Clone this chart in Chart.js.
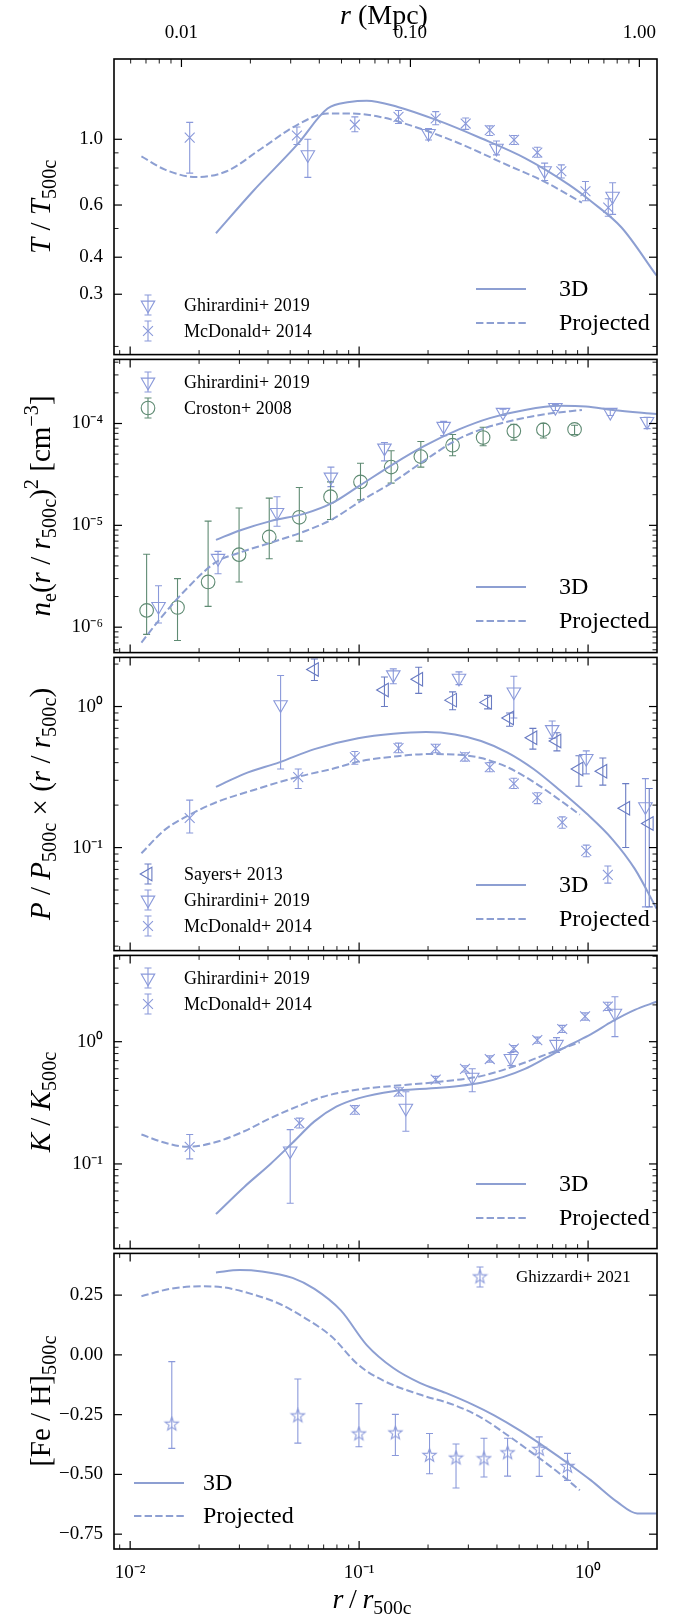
<!DOCTYPE html>
<html><head><meta charset="utf-8">
<script src="https://cdn.jsdelivr.net/npm/chart.js@4.4.1/dist/chart.umd.min.js"></script>
<style>
html,body{margin:0;padding:0;background:#fff;}
#wrap{position:relative;width:687px;height:1618px;overflow:hidden;background:#fff;}
canvas{position:absolute;left:0;}
</style></head><body><div id="wrap">
<canvas id="c0"></canvas><canvas id="c1"></canvas><canvas id="c2"></canvas><canvas id="c3"></canvas><canvas id="c4"></canvas>
</div>
<script>
// ---------------- DATA ----------------
const X_RANGE = [0.0085, 2.0];
const R500_MPC = 0.597;
const X_TICK_VALUES = [0.01, 0.1, 1];
const X_TICK_LABELS = ['10\u207B\u00B2', '10\u207B\u00B9', '10\u2070'];
const TOP_TICK_VALUES = [0.01, 0.1, 1];
const TOP_TICK_LABELS = ['0.01', '0.10', '1.00'];

// Temperature
const T_RANGE = [0.1877, 1.866];
const T_TICK_VALUES = [0.3, 0.4, 0.6, 1.0];
const T_TICK_LABELS = ['0.3', '0.4', '0.6', '1.0'];
const T_r3D = [0.0237,0.0344,0.0535,0.0728,0.0908,0.108,0.1476,0.219,0.341,0.53,0.824,1.027,1.40,1.99];
const T_3D  = [0.482,0.668,0.957,1.27,1.336,1.35,1.286,1.16,1.008,0.864,0.703,0.619,0.504,0.347];
const T_rProj = [0.0112,0.0142,0.0194,0.0264,0.0376,0.0535,0.0728,0.0908,0.1236,0.176,0.273,0.425,0.66,0.94];
const T_Proj  = [0.875,0.79,0.746,0.78,0.933,1.117,1.222,1.222,1.19,1.10,0.97,0.831,0.713,0.611];
const GH_T_r  = [0.0597,0.201,0.398,0.646,1.28];
const GH_T    = [0.887,1.047,0.933,0.784,0.643];
const GH_T_lo = [0.744,0.995,0.886,0.726,0.558];
const GH_T_hi = [1.0,1.088,0.987,0.831,0.713];
const MC_T_r  = [0.0182,0.0535,0.0958,0.1486,0.216,0.292,0.372,0.475,0.600,0.764,0.974,1.225];
const MC_T    = [1.013,1.03,1.12,1.19,1.175,1.13,1.074,0.995,0.902,0.78,0.668,0.588];
const MC_T_lo = [0.769,0.96,1.06,1.13,1.12,1.08,1.03,0.96,0.87,0.74,0.62,0.55];
const MC_T_hi = [1.14,1.10,1.19,1.25,1.24,1.18,1.11,1.03,0.94,0.82,0.72,0.63];

// Electron density
const NE_RANGE = [5.63e-7, 4.26e-4];
const NE_TICK_VALUES = [1e-6, 1e-5, 1e-4];
const NE_TICK_LABELS = ['10\u207B\u2076', '10\u207B\u2075', '10\u207B\u2074'];
const NE_r3D = [0.0237,0.0301,0.041,0.0583,0.076,0.099,0.141,0.192,0.273,0.372,0.53,0.753,0.98,1.28,1.99];
const NE_3D  = [7.2e-6,8.9e-6,1.1e-5,1.31e-5,1.65e-5,2.4e-5,4.0e-5,6.0e-5,8.75e-5,1.13e-4,1.36e-4,1.49e-4,1.47e-4,1.36e-4,1.24e-4];
const NE_rProj = [0.0112,0.0136,0.0177,0.0237,0.0301,0.041,0.0583,0.076,0.1035,0.141,0.192,0.262,0.341,0.485,0.66,0.94];
const NE_Proj  = [7.06e-7,1.23e-6,2.4e-6,4.35e-6,5.4e-6,6.75e-6,8.8e-6,1.14e-5,1.78e-5,2.67e-5,4.3e-5,6.75e-5,8.75e-5,1.09e-4,1.24e-4,1.36e-4];
const GH_NE_r  = [0.0133,0.0242,0.0438,0.0753,0.129,0.234,0.425,0.72,1.25,1.81];
const GH_NE    = [1.6e-6,4.75e-6,1.34e-5,2.98e-5,5.75e-5,9.4e-5,1.29e-4,1.44e-4,1.29e-4,1.05e-4];
const GH_NE_lo = [1.1e-6,3.35e-6,9.8e-6,2.4e-5,4.3e-5,7.6e-5,1.2e-4,1.34e-4,1.2e-4,8.9e-5];
const GH_NE_hi = [2.55e-6,5.55e-6,1.91e-5,3.73e-5,6.5e-5,1.05e-4,1.38e-4,1.54e-4,1.38e-4,1.15e-4];
const CR_NE_r  = [0.0118,0.0161,0.0219,0.0299,0.0405,0.0548,0.075,0.1014,0.138,0.186,0.256,0.348,0.474,0.638,0.873];
const CR_NE    = [1.46e-6,1.56e-6,2.78e-6,5.15e-6,7.7e-6,1.2e-5,1.91e-5,2.67e-5,3.73e-5,4.73e-5,6.12e-5,7.28e-5,8.43e-5,8.7e-5,8.75e-5];
const CR_NE_lo = [8.5e-7,7.4e-7,1.6e-6,2.78e-6,4.7e-6,7.0e-6,1.14e-5,1.78e-5,2.6e-5,3.73e-5,4.83e-5,6.04e-5,6.86e-5,7.2e-5,7.8e-5];
const CR_NE_hi = [5.2e-6,3.0e-6,1.1e-5,1.48e-5,1.85e-5,2.35e-5,2.67e-5,4.07e-5,5.4e-5,6.65e-5,7.8e-5,9.2e-5,9.8e-5,1.0e-4,9.6e-5];

// Pressure
const P_RANGE = [0.0186, 2.23];
const P_TICK_VALUES = [0.1, 1];
const P_TICK_LABELS = ['10\u207B\u00B9', '10\u2070'];
const P_r3D = [0.0237,0.0315,0.0448,0.0638,0.099,0.141,0.196,0.262,0.341,0.445,0.578,0.753,0.982,1.28,1.6,1.99];
const P_3D  = [0.269,0.333,0.402,0.499,0.595,0.641,0.659,0.634,0.57,0.472,0.361,0.255,0.175,0.114,0.0706,0.037];
const P_rProj = [0.0112,0.0142,0.0182,0.0242,0.0344,0.0535,0.076,0.1035,0.141,0.201,0.273,0.341,0.445,0.578,0.753,0.92];
const P_Proj  = [0.0912,0.134,0.171,0.212,0.255,0.316,0.361,0.413,0.441,0.46,0.455,0.431,0.371,0.292,0.217,0.171];
const SA_P_r  = [0.0638,0.129,0.182,0.256,0.364,0.454,0.574,0.731,0.912,1.16,1.46,1.85];
const SA_P    = [1.83,1.31,1.56,1.11,1.07,0.83,0.601,0.57,0.361,0.348,0.19,0.148];
const SA_P_lo = [1.53,1.0,1.24,0.948,0.963,0.725,0.499,0.485,0.272,0.277,0.1,0.038];
const SA_P_hi = [2.17,1.62,1.9,1.27,1.2,0.9,0.70,0.651,0.448,0.432,0.284,0.262];
const GH_P_r  = [0.0454,0.141,0.273,0.474,0.697,0.982,1.78];
const GH_P    = [1.03,1.68,1.59,1.27,0.687,0.429,0.195];
const GH_P_lo = [0.361,1.45,1.43,0.83,0.595,0.333,0.038];
const GH_P_hi = [1.66,1.85,1.76,1.64,0.79,0.485,0.308];
const MC_P_r  = [0.0182,0.0542,0.0958,0.1486,0.216,0.29,0.372,0.474,0.6,0.771,0.982,1.22];
const MC_P    = [0.162,0.316,0.436,0.507,0.504,0.441,0.371,0.284,0.226,0.151,0.0948,0.064];
const MC_P_lo = [0.127,0.262,0.39,0.47,0.47,0.41,0.345,0.262,0.205,0.137,0.086,0.056];
const MC_P_hi = [0.217,0.361,0.48,0.55,0.54,0.47,0.40,0.31,0.245,0.165,0.104,0.074];

// Entropy
const K_RANGE = [0.0203, 5.08];
const K_TICK_VALUES = [0.1, 1];
const K_TICK_LABELS = ['10\u207B\u00B9', '10\u2070'];
const K_r3D = [0.0237,0.0315,0.041,0.0512,0.0638,0.0795,0.099,0.141,0.201,0.273,0.341,0.425,0.53,0.66,0.824,1.027,1.28,1.6,1.99];
const K_3D  = [0.0389,0.0649,0.1,0.149,0.223,0.294,0.344,0.394,0.414,0.435,0.462,0.513,0.599,0.743,0.934,1.146,1.47,1.82,2.12];
const K_rProj = [0.0112,0.0142,0.0177,0.0231,0.0315,0.041,0.0535,0.0697,0.099,0.141,0.219,0.341,0.485,0.66,0.92];
const K_Proj  = [0.174,0.149,0.138,0.149,0.185,0.237,0.294,0.355,0.406,0.435,0.468,0.523,0.637,0.791,0.99];
const GH_K_r  = [0.05,0.16,0.312,0.46,0.728,1.31];
const GH_K    = [0.128,0.286,0.513,0.73,0.952,1.71];
const GH_K_lo = [0.0477,0.185,0.389,0.637,0.815,1.1];
const GH_K_hi = [0.191,0.389,0.6,0.815,1.08,2.33];
const MC_K_r  = [0.0182,0.0548,0.0958,0.149,0.216,0.29,0.372,0.474,0.6,0.771,0.97,1.22];
const MC_K    = [0.138,0.216,0.277,0.389,0.489,0.599,0.721,0.879,1.03,1.27,1.61,1.94];
const MC_K_lo = [0.11,0.197,0.255,0.36,0.46,0.565,0.68,0.83,0.97,1.19,1.5,1.8];
const MC_K_hi = [0.174,0.237,0.30,0.42,0.52,0.635,0.765,0.93,1.09,1.36,1.72,2.1];

// Metallicity
const FE_RANGE = [-0.812, 0.4245];
const FE_TICK_VALUES = [-0.75, -0.5, -0.25, 0, 0.25];
const FE_TICK_LABELS = ['\u22120.75', '\u22120.50', '\u22120.25', '0.00', '0.25'];
const FE_r3D = [0.0237,0.0301,0.0376,0.0512,0.0638,0.0832,0.108,0.141,0.184,0.239,0.312,0.389,0.507,0.66,0.824,1.03,1.34,1.64,1.99];
const FE_3D  = [0.345,0.355,0.349,0.322,0.276,0.186,0.041,-0.055,-0.117,-0.159,-0.207,-0.253,-0.318,-0.391,-0.456,-0.525,-0.615,-0.663,-0.663];
const FE_rProj = [0.0112,0.0149,0.0203,0.0253,0.0344,0.0448,0.0585,0.076,0.099,0.129,0.184,0.262,0.341,0.445,0.578,0.753,0.92];
const FE_Proj  = [0.245,0.276,0.287,0.283,0.253,0.214,0.152,0.076,-0.041,-0.11,-0.166,-0.211,-0.262,-0.336,-0.414,-0.497,-0.566];
const GZ_FE_r  = [0.0152,0.054,0.0998,0.144,0.203,0.265,0.351,0.445,0.612,0.813];
const GZ_FE    = [-0.29,-0.2555,-0.331,-0.327,-0.421,-0.432,-0.435,-0.41,-0.396,-0.467];
const GZ_FE_lo = [-0.391,-0.369,-0.384,-0.421,-0.497,-0.557,-0.511,-0.507,-0.508,-0.525];
const GZ_FE_hi = [-0.028,-0.101,-0.204,-0.249,-0.329,-0.373,-0.349,-0.349,-0.343,-0.412];

// ---------------- STYLE / LAYOUT ----------------
const FONT = '"Liberation Serif","Times New Roman",serif';
const LINE_C = '#8d9fd2';
const MARK_C = '#8a99da';
const SAY_C  = '#6a7cc3';
const CRO_C  = '#5f8b73';
const B = [59, 357, 655, 953, 1251, 1549];
const PAD = 12, PLOT_RIGHT = 657, PLOT_LEFT = 114, PAGE_H = 1618;
const TICK_FS = 19, TITLE_FS = 29;

function logMinor(lo, hi){ const out=[]; for(let e=-8;e<=1;e++){ const d=Math.pow(10,e); for(let k=2;k<=9;k++){ const v=k*d; if(v>lo&&v<hi) out.push(v);} } return out; }
function logMajor(lo, hi){ const out=[]; for(let e=-8;e<=1;e++){ const v=Math.pow(10,e); if(v>=lo&&v<=hi) out.push(v);} return out; }

const starImg = (()=>{ const c=document.createElement('canvas'); c.width=c.height=17; const g=c.getContext('2d'); g.strokeStyle=MARK_C; g.lineWidth=1.1; g.beginPath(); for(let k=0;k<10;k++){ const a=-Math.PI/2+k*Math.PI/5; const rr=k%2?2.9:7; g.lineTo(8.5+rr*Math.cos(a),8.5+rr*Math.sin(a)); } g.closePath(); g.stroke(); return c; })();

const zip = (xs, ys) => xs.map((x,i)=>({x, y: ys[i]}));
function lineDS(label, xs, ys, dashed){ return {label, data: zip(xs,ys), showLine:true, borderColor:LINE_C, borderWidth:2, borderDash: dashed?[7.4,3.2]:[], pointRadius:0, cubicInterpolationMode:'monotone', fill:false}; }
function markDS(label, xs, ys, lo, hi, kind){
  const k = MARKERS[kind];
  return {label, data: zip(xs,ys), errLo: lo, errHi: hi, showLine:false, borderColor:k.color, backgroundColor:'rgba(0,0,0,0)', pointStyle:k.style, rotation:k.rot, pointRadius:k.r, borderWidth:1.1, pointHoverRadius:k.r};
}
const MARKERS = {
  gh: {style:'triangle', rot:180, r:7.8, color:MARK_C},
  mc: {style:'crossRot', rot:0, r:7, color:MARK_C},
  sa: {style:'triangle', rot:270, r:7.8, color:SAY_C},
  cr: {style:'circle', rot:0, r:6.8, color:CRO_C},
  gz: {style:starImg, rot:0, r:7, color:MARK_C}
};

// ---------------- PLUGINS ----------------
function fontFor(s, size){ const sz=(s.sub||s.sup)?size*0.7:size; return (s.it?'italic ':'')+sz.toFixed(1)+'px '+FONT; }
function richWidth(ctx, segs, size){ let w=0; for(const s of segs){ ctx.font=fontFor(s,size); w+=ctx.measureText(s.t).width; } return w; }
function drawRich(ctx, segs, x, y, size, rot, align){
  ctx.save(); ctx.translate(x,y); if(rot) ctx.rotate(rot);
  const w=richWidth(ctx,segs,size); let cx = align==='left'?0:-w/2;
  ctx.fillStyle='#000'; ctx.textBaseline='alphabetic'; ctx.textAlign='left';
  for(const s of segs){ ctx.font=fontFor(s,size); const dy = s.sub?size*0.22:(s.sup?-size*0.42:0); ctx.fillText(s.t,cx,size*0.34+dy); cx+=ctx.measureText(s.t).width; }
  ctx.restore();
}
function drawMarker(ctx, kind, x, y){
  const k=MARKERS[kind];
  ctx.save(); ctx.strokeStyle=k.color; ctx.lineWidth=1.1;
  ctx.beginPath(); ctx.moveTo(x,y-10); ctx.lineTo(x,y+10); ctx.moveTo(x-3.5,y-10); ctx.lineTo(x+3.5,y-10); ctx.moveTo(x-3.5,y+10); ctx.lineTo(x+3.5,y+10); ctx.stroke();
  ctx.fillStyle='rgba(0,0,0,0)';
  Chart.helpers.drawPoint(ctx,{pointStyle:k.style, rotation:k.rot, radius:k.r, borderWidth:1.1},x,y);
  ctx.restore();
}

const PANEL = {};

const errPlugin = {
  id:'errbars',
  beforeDatasetsDraw(chart){
    const {ctx, chartArea:a} = chart; const xs=chart.scales.x, ys=chart.scales.y;
    ctx.save(); ctx.beginPath(); ctx.rect(a.left,a.top,a.right-a.left,a.bottom-a.top); ctx.clip();
    chart.data.datasets.forEach(ds=>{
      if(!ds.errLo) return;
      ctx.strokeStyle=ds.borderColor; ctx.lineWidth=1.1;
      ds.data.forEach((p,i)=>{
        const px=xs.getPixelForValue(p.x), y1=ys.getPixelForValue(ds.errLo[i]), y2=ys.getPixelForValue(ds.errHi[i]);
        ctx.beginPath(); ctx.moveTo(px,y1); ctx.lineTo(px,y2);
        ctx.moveTo(px-3.5,y1); ctx.lineTo(px+3.5,y1); ctx.moveTo(px-3.5,y2); ctx.lineTo(px+3.5,y2); ctx.stroke();
      });
    });
    ctx.restore();
  }
};

const framePlugin = {
  id:'frame',
  afterDraw(chart){
    const P = PANEL[chart.canvas.id];
    const {ctx, chartArea:a} = chart; const xs=chart.scales.x, ys=chart.scales.y;
    const off = P.canvasTop;
    ctx.save(); ctx.strokeStyle='#000';
    const tk=(x1,y1,x2,y2,w)=>{ ctx.lineWidth=w; ctx.beginPath(); ctx.moveTo(x1,y1); ctx.lineTo(x2,y2); ctx.stroke(); };
    const MAJ=8, MIN=4.5;
    const xt=(scale, vals, len, w, top, bottom)=>vals.forEach(v=>{ const px=scale.getPixelForValue(v); if(px<a.left+0.5||px>a.right-0.5) return; if(bottom) tk(px,a.bottom,px,a.bottom-len,w); if(top) tk(px,a.top,px,a.top+len,w); });
    xt(xs, logMajor(X_RANGE[0],X_RANGE[1]), MAJ, 1.2, !P.isTop, true);
    xt(xs, logMinor(X_RANGE[0],X_RANGE[1]), MIN, 0.9, !P.isTop, true);
    if(P.isTop){ const s=chart.scales.xTop; xt(s, logMajor(s.min,s.max), MAJ, 1.2, true, false); xt(s, logMinor(s.min,s.max), MIN, 0.9, true, false); }
    const yt=(vals,len,w)=>vals.forEach(v=>{ const py=ys.getPixelForValue(v); if(py<a.top+0.5||py>a.bottom-0.5) return; tk(a.left,py,a.left+len,py,w); tk(a.right,py,a.right-len,py,w); });
    yt(P.yMajor, MAJ, 1.2); yt(P.yMinor, MIN, 0.9);
    ctx.lineWidth=1.6; ctx.strokeRect(a.left,a.top,a.right-a.left,a.bottom-a.top);
    // titles
    drawRich(ctx, P.yTitle, 40, (a.top+a.bottom)/2, TITLE_FS, -Math.PI/2);
    if(P.topTitle) drawRich(ctx, P.topTitle, 384, 14, 28, 0);
    if(P.bottomTitle) drawRich(ctx, P.bottomTitle, 372, 1598-off, 28, 0);
    // legends
    if(P.markLegend){ const L=P.markLegend; L.rows.forEach(r=>{ drawMarker(ctx, r.kind, L.x, r.y-off); ctx.fillStyle='#000'; ctx.font=L.size+'px '+FONT; ctx.textBaseline='middle'; ctx.textAlign='left'; ctx.fillText(r.label, L.tx, r.y-off+1); }); }
    if(P.lineLegend){ const L=P.lineLegend; L.rows.forEach(r=>{ ctx.strokeStyle=LINE_C; ctx.lineWidth=2; ctx.setLineDash(r.dash); ctx.beginPath(); ctx.moveTo(L.x1,r.y-off); ctx.lineTo(L.x2,r.y-off); ctx.stroke(); ctx.setLineDash([]); ctx.fillStyle='#000'; ctx.font=L.size+'px '+FONT; ctx.textBaseline='middle'; ctx.textAlign='left'; ctx.fillText(r.label, L.tx, r.y-off+1); }); }
    ctx.restore();
  }
};

// ---------------- PANELS ----------------
const sub=t=>({t,sub:true}), sup=t=>({t,sup:true}), it=t=>({t,it:true}), rm=t=>({t});
const LL = (y1,y2)=>({x1:476,x2:526,tx:559,size:24,rows:[{y:y1,dash:[],label:'3D'},{y:y2,dash:[7.4,3.2],label:'Projected'}]});
const SL = ' / ';

const panels = [
  { id:'c0', yType:'logarithmic', range:T_RANGE, tickVals:T_TICK_VALUES, tickLabels:T_TICK_LABELS,
    yMajor:[1.0,0.3,0.4,0.6], yMinor:[0.2,0.5,0.7,0.8,0.9],
    yTitle:[it('T'),rm(SL),it('T'),sub('500c')],
    markLegend:{x:148,tx:184,size:18,rows:[{y:305,kind:'gh',label:'Ghirardini+ 2019'},{y:331,kind:'mc',label:'McDonald+ 2014'}]},
    lineLegend:LL(289,323),
    datasets:[lineDS('3D',T_r3D,T_3D,false), lineDS('Projected',T_rProj,T_Proj,true),
      markDS('Ghirardini+ 2019',GH_T_r,GH_T,GH_T_lo,GH_T_hi,'gh'), markDS('McDonald+ 2014',MC_T_r,MC_T,MC_T_lo,MC_T_hi,'mc')]},
  { id:'c1', yType:'logarithmic', range:NE_RANGE, tickVals:NE_TICK_VALUES, tickLabels:NE_TICK_LABELS,
    yMajor:logMajor(NE_RANGE[0],NE_RANGE[1]), yMinor:logMinor(NE_RANGE[0],NE_RANGE[1]),
    yTitle:[it('n'),sub('e'),rm('('),it('r'),rm(SL),it('r'),sub('500c'),rm(')'),sup('2'),rm(' [cm'),sup('\u22123'),rm(']')],
    markLegend:{x:148,tx:184,size:18,rows:[{y:382,kind:'gh',label:'Ghirardini+ 2019'},{y:408,kind:'cr',label:'Croston+ 2008'}]},
    lineLegend:LL(587,621),
    datasets:[lineDS('3D',NE_r3D,NE_3D,false), lineDS('Projected',NE_rProj,NE_Proj,true),
      markDS('Ghirardini+ 2019',GH_NE_r,GH_NE,GH_NE_lo,GH_NE_hi,'gh'), markDS('Croston+ 2008',CR_NE_r,CR_NE,CR_NE_lo,CR_NE_hi,'cr')]},
  { id:'c2', yType:'logarithmic', range:P_RANGE, tickVals:P_TICK_VALUES, tickLabels:P_TICK_LABELS,
    yMajor:logMajor(P_RANGE[0],P_RANGE[1]), yMinor:logMinor(P_RANGE[0],P_RANGE[1]),
    yTitle:[it('P'),rm(SL),it('P'),sub('500c'),rm(' \u00D7 ('),it('r'),rm(SL),it('r'),sub('500c'),rm(')')],
    markLegend:{x:148,tx:184,size:18,rows:[{y:874,kind:'sa',label:'Sayers+ 2013'},{y:900,kind:'gh',label:'Ghirardini+ 2019'},{y:926,kind:'mc',label:'McDonald+ 2014'}]},
    lineLegend:LL(885,919),
    datasets:[lineDS('3D',P_r3D,P_3D,false), lineDS('Projected',P_rProj,P_Proj,true),
      markDS('Sayers+ 2013',SA_P_r,SA_P,SA_P_lo,SA_P_hi,'sa'), markDS('Ghirardini+ 2019',GH_P_r,GH_P,GH_P_lo,GH_P_hi,'gh'), markDS('McDonald+ 2014',MC_P_r,MC_P,MC_P_lo,MC_P_hi,'mc')]},
  { id:'c3', yType:'logarithmic', range:K_RANGE, tickVals:K_TICK_VALUES, tickLabels:K_TICK_LABELS,
    yMajor:logMajor(K_RANGE[0],K_RANGE[1]), yMinor:logMinor(K_RANGE[0],K_RANGE[1]),
    yTitle:[it('K'),rm(SL),it('K'),sub('500c')],
    markLegend:{x:148,tx:184,size:18,rows:[{y:978,kind:'gh',label:'Ghirardini+ 2019'},{y:1004,kind:'mc',label:'McDonald+ 2014'}]},
    lineLegend:LL(1184,1218),
    datasets:[lineDS('3D',K_r3D,K_3D,false), lineDS('Projected',K_rProj,K_Proj,true),
      markDS('Ghirardini+ 2019',GH_K_r,GH_K,GH_K_lo,GH_K_hi,'gh'), markDS('McDonald+ 2014',MC_K_r,MC_K,MC_K_lo,MC_K_hi,'mc')]},
  { id:'c4', yType:'linear', range:FE_RANGE, tickVals:FE_TICK_VALUES, tickLabels:FE_TICK_LABELS,
    yMajor:FE_TICK_VALUES, yMinor:[],
    yTitle:[rm('[Fe / H]'),sub('500c')],
    markLegend:{x:480,tx:516,size:17,rows:[{y:1277,kind:'gz',label:'Ghizzardi+ 2021'}]},
    lineLegend:{x1:134,x2:184,tx:203,size:24,rows:[{y:1483,dash:[],label:'3D'},{y:1516,dash:[7.4,3.2],label:'Projected'}]},
    datasets:[lineDS('3D',FE_r3D,FE_3D,false), lineDS('Projected',FE_rProj,FE_Proj,true),
      markDS('Ghizzardi+ 2021',GZ_FE_r,GZ_FE,GZ_FE_lo,GZ_FE_hi,'gz')]}
];

panels.forEach((p, i)=>{
  const isTop = i===0, isBottom = i===4;
  const canvasTop = isTop ? 0 : B[i]-PAD;
  const canvasBottom = isBottom ? PAGE_H : B[i+1]+PAD;
  const cv = document.getElementById(p.id);
  cv.width = 687; cv.height = canvasBottom-canvasTop;
  cv.style.top = canvasTop+'px'; cv.style.width='687px'; cv.style.height=(canvasBottom-canvasTop)+'px';
  PANEL[p.id] = {canvasTop, isTop, isBottom, yMajor:p.yMajor, yMinor:p.yMinor, yTitle:p.yTitle, markLegend:p.markLegend, lineLegend:p.lineLegend,
    topTitle: isTop ? [it('r'),rm(' (Mpc)')] : null,
    bottomTitle: isBottom ? [it('r'),rm('\u2009/\u2009'),it('r'),sub('500c')] : null};
  const tickFont = {family:FONT, size:TICK_FS};
  const scales = {
    x: { type:'logarithmic', position:'bottom', min:X_RANGE[0], max:X_RANGE[1], display:isBottom,
      grid:{display:false}, border:{display:false},
      afterBuildTicks: s=>{ s.ticks = X_TICK_VALUES.map(v=>({value:v})); },
      ticks:{ autoSkip:false, maxRotation:0, padding:5, color:'#000', font:tickFont, callback:(v,idx)=>X_TICK_LABELS[idx] },
      afterFit: s=>{ s.height = isBottom ? PAGE_H - B[5] : 0; } },
    y: { type:p.yType, position:'left', min:p.range[0], max:p.range[1],
      grid:{display:false}, border:{display:false},
      afterBuildTicks: s=>{ s.ticks = p.tickVals.map(v=>({value:v})); },
      ticks:{ autoSkip:false, padding:3, color:'#000', font:tickFont, callback:(v,idx)=>p.tickLabels[idx] },
      afterFit: s=>{ s.width = PLOT_LEFT; } }
  };
  if(isTop){
    scales.xTop = { type:'logarithmic', position:'top', min:X_RANGE[0]*R500_MPC, max:X_RANGE[1]*R500_MPC,
      grid:{display:false}, border:{display:false},
      afterBuildTicks: s=>{ s.ticks = TOP_TICK_VALUES.map(v=>({value:v})); },
      ticks:{ autoSkip:false, maxRotation:0, padding:7, color:'#000', font:tickFont, callback:(v,idx)=>TOP_TICK_LABELS[idx] },
      afterFit: s=>{ s.height = B[0]; } };
  }
  new Chart(cv, {
    type:'scatter',
    data:{ datasets:p.datasets },
    options:{ responsive:false, animation:false, devicePixelRatio:1,
      layout:{ padding:{ left:0, right:687-PLOT_RIGHT, top:isTop?0:PAD, bottom:isBottom?0:PAD } },
      plugins:{ legend:{display:false}, tooltip:{enabled:false} },
      scales },
    plugins:[errPlugin, framePlugin]
  });
});
</script></body></html>
